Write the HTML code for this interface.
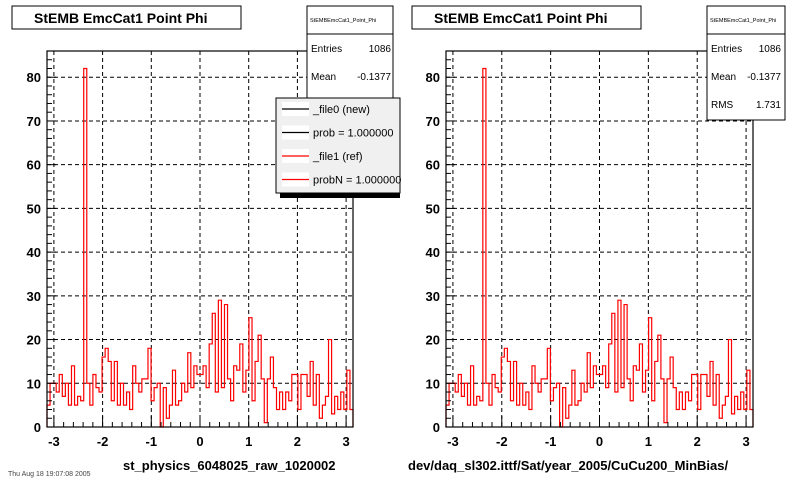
<!DOCTYPE html>
<html><head><meta charset="utf-8">
<style>
html,body{margin:0;padding:0;background:#fff;}
svg{display:block;font-family:"Liberation Sans",sans-serif;}
</style></head>
<body>
<svg id="chart" width="800" height="480" viewBox="0 0 800 480"></svg>
<script>
const counts = [5,10,10,8,12,7,10,5,14,5,7,6,82,10,5,12,9,8,16,18,15,6,15,5,10,5,8,4,14,10,8,11,11,18,6,9,10,0,9,2,5,13,5,6,10,8,17,9,14,12,12,14,9,19,26,8,29,9,28,11,6,14,13,19,8,13,25,6,15,21,11,1,11,16,9,4,8,4,8,6,12,12,4,12,12,7,15,5,12,2,5,7,20,3,7,4,8,4,13,4];
const xTicks = [-3,-2,-1,0,1,2,3];
const yTicks = [0,10,20,30,40,50,60,70,80];
const xMin = -Math.PI, xMax = Math.PI, yMin = 0, yMax = 86;
const pads = [
  {left:47, right:353, top:51, bottom:427, label:"st_physics_6048025_raw_1020002", labelX:123, legend:true, rms:false},
  {left:446, right:753, top:51, bottom:427, label:"dev/daq_sl302.ittf/Sat/year_2005/CuCu200_MinBias/", labelX:408, legend:false, rms:true}
];
const NS="http://www.w3.org/2000/svg";
const svg=document.getElementById('chart');
function mk(tag,attrs,parent){const e=document.createElementNS(NS,tag);for(const k in attrs)e.setAttribute(k,attrs[k]);(parent||svg).appendChild(e);return e;}

pads.forEach((p,pi)=>{
  const g=mk('g',{});
  
  
  const sx=v=>p.left+(v-xMin)/(xMax-xMin)*(p.right-p.left);
  const sy=v=>p.bottom-(v-yMin)/(yMax-yMin)*(p.bottom-p.top);
  // grid
  const grid=mk('g',{stroke:'#000','stroke-width':1,'stroke-dasharray':'4,3'},g);
  
  
  xTicks.forEach(t=>mk('line',{x1:sx(t),x2:sx(t),y1:p.top,y2:p.bottom},grid));
  yTicks.forEach(t=>{if(t>0)mk('line',{x1:p.left,x2:p.right,y1:sy(t),y2:sy(t)},grid);});
  // histogram
  const w=(xMax-xMin)/counts.length;
  let d='M'+sx(xMin)+','+sy(0);
  counts.forEach((c,i)=>{d+=' L'+sx(xMin+i*w)+','+sy(c)+' L'+sx(xMin+(i+1)*w)+','+sy(c);});
  d+=' L'+sx(xMax)+','+sy(0);
  const h=mk('path',{d:d,fill:'none',stroke:'#f00','stroke-width':1.2},g);
  
  
  // frame
  const fr=mk('rect',{x:p.left,y:p.top,width:p.right-p.left,height:p.bottom-p.top,fill:'none',stroke:'#000','stroke-width':1.2},g);
  
  
  // x ticks
  const ax=mk('g',{stroke:'#000','stroke-width':1},g);
  
  
  for(let v=-3.2;v<=3.2001;v+=0.2){const vv=Math.round(v*10)/10;if(vv<xMin||vv>xMax)continue;const maj=Math.abs(vv-Math.round(vv))<1e-6;mk('line',{x1:sx(vv),x2:sx(vv),y1:p.bottom,y2:p.bottom-(maj?11:5)},ax);}
  xTicks.forEach(t=>{const tx=mk('text',{x:sx(t),y:p.bottom+19,'text-anchor':'middle','font-size':13,'font-weight':'bold',stroke:'none',fill:'#000'},ax);tx.textContent=t;
    
    });
  // y ticks
  const ay=mk('g',{stroke:'#000','stroke-width':1},g);
  
  
  for(let v=0;v<=yMax;v+=2){const maj=v%10===0;mk('line',{x1:p.left,x2:p.left+(maj?9:5),y1:sy(v),y2:sy(v)},ay);}
  yTicks.forEach(t=>{const tx=mk('text',{x:p.left-6,y:sy(t)+5,'text-anchor':'end','font-size':13,'font-weight':'bold',stroke:'none',fill:'#000'},ay);tx.textContent=t;
    
    });
  // x label
  const xl=mk('text',{x:p.labelX,y:470,'font-size':13,'font-weight':'bold',fill:'#000'},g);
  xl.textContent=p.label;
  
  
  // title box
  const ox=pi*400;
  const tb=mk('g',{},g);
  
  
  mk('rect',{x:12+ox,y:6,width:229,height:23,fill:'#fff',stroke:'#000'},tb);
  const tt=mk('text',{x:34+ox,y:23,'font-size':14,'font-weight':'bold'},tb);tt.textContent='StEMB EmcCat1 Point Phi';
  // stats box
  const sb=mk('g',{},g);
  
  
  const sbx=pi===0?307:707, sbh=pi===0?92:114;
  mk('rect',{x:sbx,y:6,width:pi===0?86:78,height:sbh,fill:'#fff',stroke:'#000'},sb);
  mk('line',{x1:sbx,x2:sbx+(pi===0?86:78),y1:34,y2:34,stroke:'#000'},sb);
  const st=mk('text',{x:sbx+3,y:22,'font-size':5.5},sb);st.textContent='StEMBEmcCat1_Point_Phi';
  const rows=[['Entries','1086'],['Mean','-0.1377']];if(p.rms)rows.push(['RMS','1.731']);
  rows.forEach((r,i)=>{const y=52+i*28;
    const a=mk('text',{x:sbx+4,y:y,'font-size':10},sb);a.textContent=r[0];
    const b=mk('text',{x:sbx+(pi===0?84:74),y:y,'font-size':10,'text-anchor':'end'},sb);b.textContent=r[1];});
  if(p.legend){
    const lg=mk('g',{},g);
    
    
    mk('rect',{x:280,y:102,width:120,height:96,fill:'#000'},lg);
    mk('rect',{x:276,y:98,width:124,height:95,fill:'#f0f0f0',stroke:'#000'},lg);
    const ents=[['_file0 (new)','#000'],['prob = 1.000000','#000'],['_file1 (ref)','#f00'],['probN = 1.000000','#f00']];
    ents.forEach((e,i)=>{const y=109+i*23.5;
      const en=mk('g',{},lg);
      
      
      mk('rect',{x:282,y:y-7,width:27,height:14,fill:'#fff'},en);
      mk('line',{x1:282,x2:309,y1:y,y2:y,stroke:e[1],'stroke-width':1.2},en);
      const t=mk('text',{x:313,y:y+4,'font-size':11},en);t.textContent=e[0];});
  }
});
const ft=mk('text',{x:8,y:476,'font-size':7,fill:'#444'});ft.textContent='Thu Aug 18 19:07:08 2005';


</script>
</body></html>
